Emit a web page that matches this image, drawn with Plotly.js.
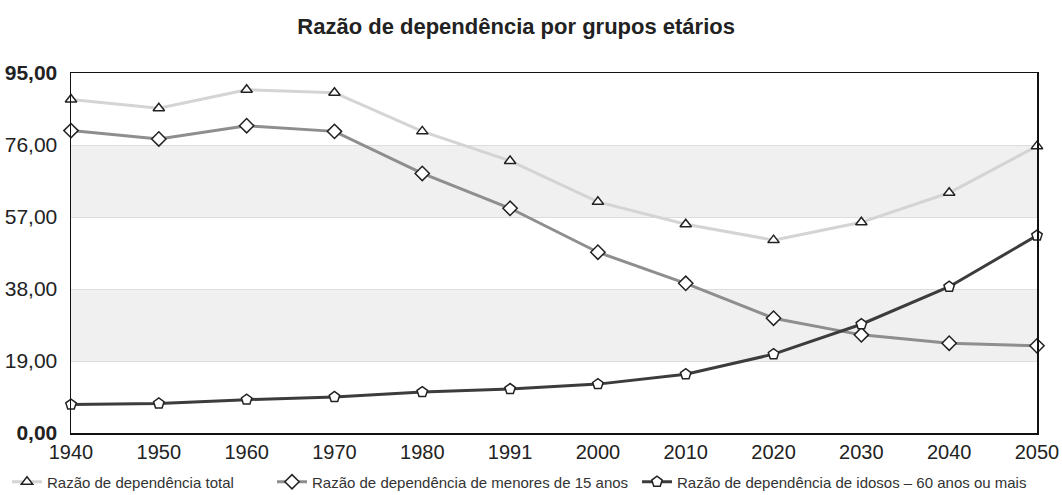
<!DOCTYPE html>
<html>
<head>
<meta charset="utf-8">
<script src="https://cdn.plot.ly/plotly-3.0.1.min.js"></script>
<style>html,body{margin:0;padding:0;background:#fff;}#chart{width:1062px;height:495px;}</style>
</head>
<body>
<div id="chart"></div>
<script>
const years = ['1940','1950','1960','1970','1980','1991','2000','2010','2020','2030','2040','2050'];
const totalValues = [88.0, 85.7, 90.6, 89.8, 79.6, 71.8, 61.0, 55.1, 50.9, 55.6, 63.4, 75.7];
const minorsValues = [79.8, 77.6, 81.1, 79.6, 68.5, 59.3, 47.7, 39.5, 30.3, 25.9, 23.7, 23.0];
const elderlyValues = [7.5, 7.8, 8.8, 9.5, 10.8, 11.6, 12.9, 15.5, 20.8, 28.7, 38.6, 52.1];
const seriesNames = ['Razão de dependência total', 'Razão de dependência de menores de 15 anos', 'Razão de dependência de idosos – 60 anos ou mais'];
const yTickVals = [0, 19, 38, 57, 76, 95];
const yTickText = ['<b>0,00</b>', '19,00', '38,00', '57,00', '76,00', '<b>95,00</b>'];
const bands = [[19, 38], [57, 76]];

const mk = (sym, s) => ({symbol: sym, size: s, color: '#ffffff', line: {color: '#222222', width: 1.5}});
const traces = [
  {x: years, y: totalValues, name: seriesNames[0], legend: 'legend', mode: 'lines+markers', cliponaxis: false,
   line: {color: '#d4d4d4', width: 3}, marker: mk('triangle-up', 10)},
  {x: years, y: minorsValues, name: seriesNames[1], legend: 'legend2', mode: 'lines+markers', cliponaxis: false,
   line: {color: '#8e8e8e', width: 3}, marker: mk('diamond', 11)},
  {x: years, y: elderlyValues, name: seriesNames[2], legend: 'legend3', mode: 'lines+markers', cliponaxis: false,
   line: {color: '#3c3c3c', width: 3}, marker: mk('pentagon', 11)}
];

const shapes = bands.map(b => ({type: 'rect', xref: 'paper', yref: 'y', x0: 0, x1: 1, y0: b[0], y1: b[1],
  fillcolor: '#f0f0f0', line: {width: 0}, layer: 'below'}));

const legendBase = (xpx) => ({orientation: 'h', xref: 'container', yref: 'container', x: xpx / 1062, xanchor: 'left',
  y: 13 / 495, yanchor: 'middle', itemwidth: 30, font: {size: 15, color: '#333333'}, bgcolor: 'rgba(0,0,0,0)'});

const layout = {
  width: 1062, height: 495,
  margin: {l: 71, r: 25, t: 73, b: 62},
  paper_bgcolor: '#ffffff', plot_bgcolor: '#ffffff',
  font: {family: 'Liberation Sans, Arial, sans-serif', color: '#222222'},
  title: {text: '<b>Razão de dependência por grupos etários</b>', x: 0.486, xanchor: 'center', y: 0.947, yanchor: 'middle',
    font: {size: 22, color: '#222222'}},
  xaxis: {type: 'category', range: [0, 11], showline: true, linecolor: '#111111', linewidth: 1.5, mirror: true,
    showgrid: false, zeroline: false, ticks: '', tickfont: {size: 20, color: '#222222'}, fixedrange: true},
  yaxis: {range: [0, 95], tickvals: yTickVals, ticktext: yTickText, showline: true, linecolor: '#111111', linewidth: 1.5,
    mirror: true, showgrid: true, gridcolor: '#dddddd', gridwidth: 1, zeroline: false, ticks: '',
    tickfont: {size: 21, color: '#222222'}, ticklabelstandoff: 8, fixedrange: true},
  shapes: shapes,
  showlegend: true,
  legend: legendBase(7),
  legend2: legendBase(272),
  legend3: legendBase(637)
};

Plotly.newPlot('chart', traces, layout, {staticPlot: true, displayModeBar: false});
</script>
</body>
</html>
